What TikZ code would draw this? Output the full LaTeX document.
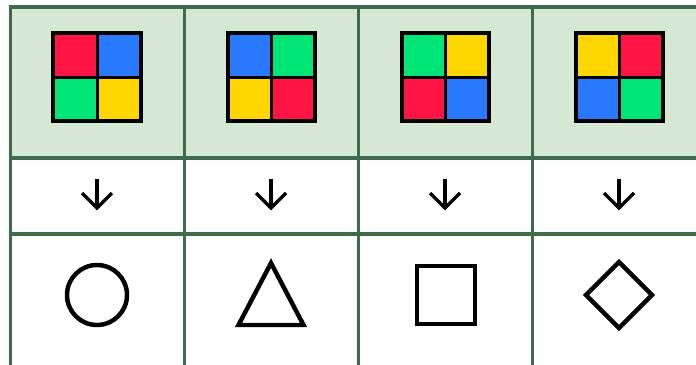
\documentclass[tikz,border=0pt]{standalone}
\usetikzlibrary{positioning,shapes.geometric}

\definecolor{gridgreen}{RGB}{62,108,74}
\definecolor{headfill}{RGB}{213,232,212}
\definecolor{tilered}{RGB}{255,20,68}
\definecolor{tileblue}{RGB}{41,121,255}
\definecolor{tilegreen}{RGB}{0,230,118}
\definecolor{tileyellow}{RGB}{255,214,0}

\begin{document}
\begin{tikzpicture}[
    x=0.03cm, y=-0.03cm,
    gridline/.style={draw=gridgreen, line width=2.7pt},
    tile_frame/.style={rectangle, fill=black, minimum size=2.73cm, inner sep=0pt},
    tile/.style={rectangle, minimum size=1.2cm, inner sep=0pt},
    shape_line/.style={draw=black, line width=3.8pt, line join=miter},
    down_arrow/.style={draw=black, line width=2.8pt, line join=miter}
]
\useasboundingbox (0,0) rectangle (696,365);

% Table
\fill[headfill] (10.5,7) rectangle (696,158);
\foreach \y in {7,158,234}
  \draw[gridline] (9,\y) -- (696,\y);
\foreach \x in {10.5,184.5,358.5,532.5}
  \draw[gridline] (\x,5.5) -- (\x,365);

% Colour tiles (top left, top right, bottom left, bottom right)
\foreach \cx/\n/\a/\b/\c/\d in {97/one/tilered/tileblue/tilegreen/tileyellow,
                                271/two/tileblue/tilegreen/tileyellow/tilered,
                                445/three/tilegreen/tileyellow/tilered/tileblue,
                                619/four/tileyellow/tilered/tileblue/tilegreen}{
  \node[tile_frame] (frame_\n) at (\cx,77) {};
  \node[tile, fill=\a] (tl_\n) at ([xshift=-0.645cm, yshift=0.645cm]frame_\n.center) {};
  \node[tile, fill=\b] (tr_\n) at ([xshift=0.645cm, yshift=0.645cm]frame_\n.center) {};
  \node[tile, fill=\c] (bl_\n) at ([xshift=-0.645cm, yshift=-0.645cm]frame_\n.center) {};
  \node[tile, fill=\d] (br_\n) at ([xshift=0.645cm, yshift=-0.645cm]frame_\n.center) {};
  % Arrow
  \draw[down_arrow] (\cx,179) -- (\cx,207);
  \draw[down_arrow] (\cx-15,193) -- (\cx,208) -- (\cx+15,193);
}

% Shapes
\node[circle, shape_line, minimum size=1.8cm, inner sep=0pt] (circ) at (97,295) {};
\draw[shape_line] (271,263) -- (303.5,325) -- (238.5,325) -- cycle;
\node[rectangle, shape_line, minimum size=1.74cm, inner sep=0pt] (sq) at (446,295) {};
\draw[shape_line] (619,262) -- (652,295) -- (619,328) -- (586,295) -- cycle;

\end{tikzpicture}
\end{document}
